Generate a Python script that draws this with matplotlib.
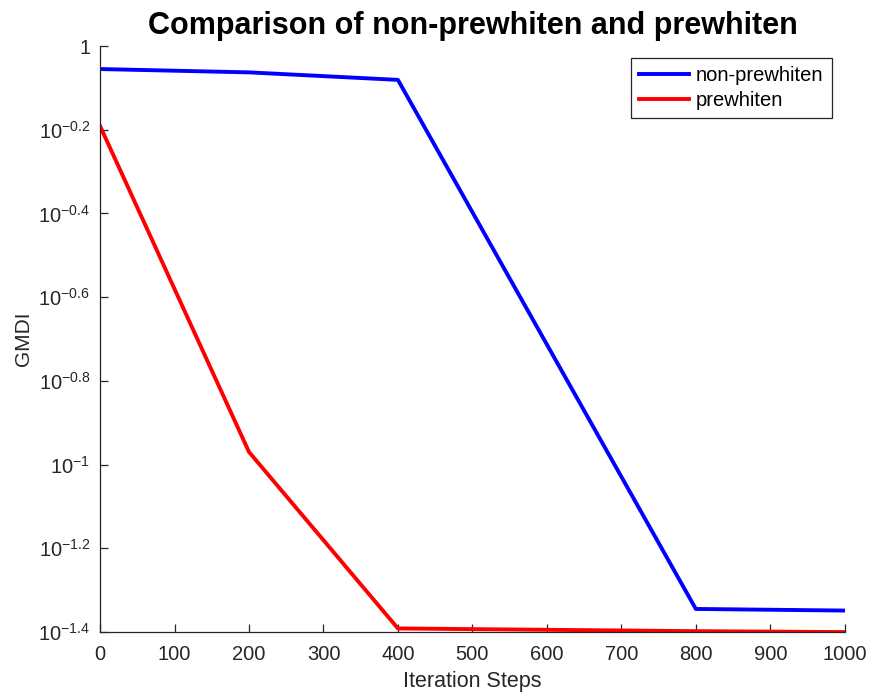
import matplotlib
matplotlib.use("Agg")
import matplotlib.pyplot as plt
import numpy as np

plt.rcParams['font.family'] = ['Liberation Sans', 'DejaVu Sans']
plt.rcParams['mathtext.fontset'] = 'custom'
plt.rcParams['mathtext.rm'] = 'Liberation Sans'
plt.rcParams['mathtext.it'] = 'Liberation Sans'

steps = [0, 200, 400, 600, 800, 1000]
non_prewhiten = [0.881, 0.865, 0.830, 0.1936, 0.0452, 0.0448]
prewhiten = [0.644, 0.1072, 0.0406, 0.0403, 0.0400, 0.0398]

x_ticks = list(range(0, 1001, 100))
y_exponents = [0, -0.2, -0.4, -0.6, -0.8, -1, -1.2, -1.4]
y_tick_labels = ['1', r'$\mathregular{10^{-0.2}}$', r'$\mathregular{10^{-0.4}}$',
                 r'$\mathregular{10^{-0.6}}$', r'$\mathregular{10^{-0.8}}$',
                 r'$\mathregular{10^{-1}}$', r'$\mathregular{10^{-1.2}}$',
                 r'$\mathregular{10^{-1.4}}$']

axis_color = '#262626'

fig = plt.figure(figsize=(8.7, 6.94), dpi=100)
ax = fig.add_axes([0.115, 0.0893, 0.856, 0.8444])

ax.plot(steps, non_prewhiten, color='#0000ff', lw=2.8, label='non-prewhiten')
ax.plot(steps, prewhiten, color='#ff0000', lw=2.8, label='prewhiten')

ax.set_yscale('log')
ax.set_xlim(0, 1000)
ax.set_ylim(10 ** -1.4, 1)
ax.set_xticks(x_ticks)
ax.set_yticks([10 ** e for e in y_exponents])
ax.set_yticklabels(y_tick_labels)
ax.yaxis.set_minor_locator(matplotlib.ticker.NullLocator())

for side in ('top', 'right'):
    ax.spines[side].set_visible(False)
for side in ('left', 'bottom'):
    ax.spines[side].set_color(axis_color)
    ax.spines[side].set_linewidth(0.9)

ax.tick_params(direction='in', length=5.8, width=0.9, colors=axis_color,
               labelsize=14.5, labelcolor=axis_color)
ax.tick_params(axis='x', pad=9.5)
ax.tick_params(axis='y', pad=7)

ax.set_xlabel('Iteration Steps', fontsize=15.5, color=axis_color, labelpad=5)
ax.set_ylabel('GMDI', fontsize=15, color=axis_color, labelpad=4)
ax.set_title('Comparison of non-prewhiten and prewhiten', fontsize=22,
             fontweight='bold', pad=9)

leg = ax.legend(loc='upper right', fontsize=14.5, frameon=True, fancybox=False,
                borderpad=0.4, handlelength=2.5, handletextpad=0.35,
                labelspacing=0.3, bbox_to_anchor=(0.9825, 0.979),
                borderaxespad=0)
leg.get_frame().set_edgecolor(axis_color)
leg.get_frame().set_linewidth(0.9)
leg.get_frame().set_alpha(1)

fig.savefig('out.png', dpi=100)
